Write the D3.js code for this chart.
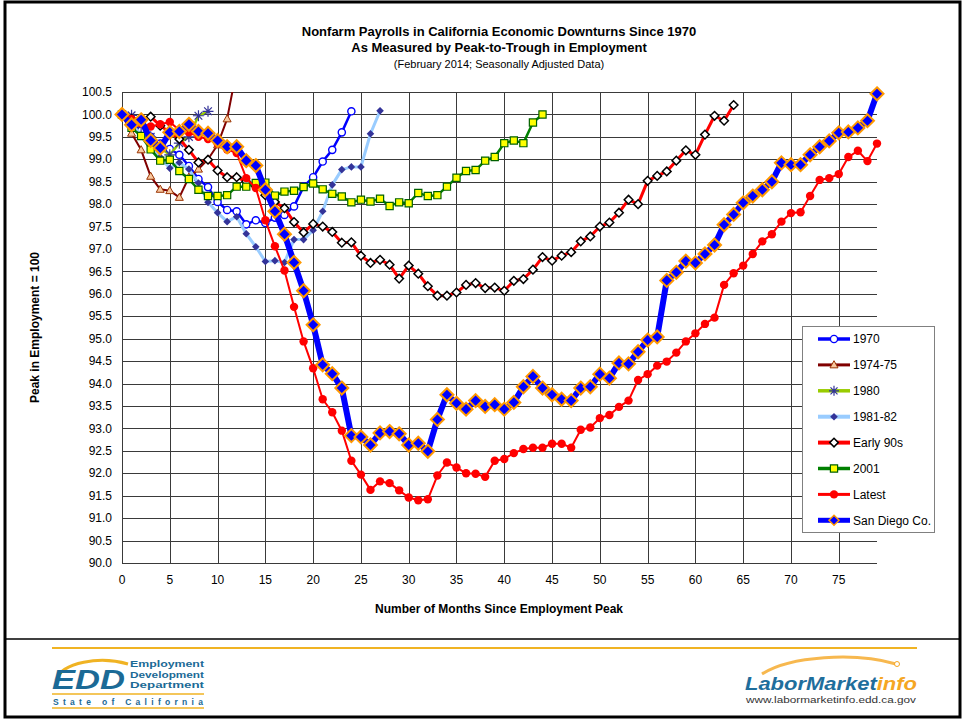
<!DOCTYPE html>
<html>
<head>
<meta charset="utf-8">
<script src="https://cdn.jsdelivr.net/npm/d3@7"></script>
<style>
  body { margin: 0; background: #fff; }
  svg { font-family: Arial, "Liberation Sans", sans-serif; }
</style>
</head>
<body>
<div id="chart"></div>
<script>
// Index of each value = months since employment peak
var s1970 = [100.0, 99.8, 99.65, 99.5, 99.35, 99.23, 99.1, 98.85, 98.56, 98.38, 98.05, 97.87, 97.84, 97.55, 97.64,
  97.58, 97.7, 97.76, 97.95, 98.39, 98.6, 98.95, 99.21, 99.6, 100.07];
var s1974 = [100.0, 99.58, 99.21, 98.62, 98.33, 98.3, 98.15, 98.6, 98.78, 99.0, 99.32, 99.9, 101.0];
var s1980 = [100.0, 99.98, 99.75, 99.5, 99.25, 99.1, 99.36, 99.5, 99.97, 100.07];
var s1981 = [100.0, 99.78, 99.55, 99.3, 99.05, 98.8, 98.93, 98.78, 98.47, 98.04, 97.81, 97.61, 97.72, 97.34, 97.05,
  96.72, 96.74, 96.7, 97.21, 97.21, 97.42, 97.84, 98.43, 98.77, 98.83, 98.83, 99.57, 100.08];
var sEarly90s = [100.0, 99.9, 99.85, 99.95, 99.75, 99.6, 99.45, 99.21, 98.93, 98.99, 98.75, 98.6, 98.6, 98.5, 98.4,
  98.2, 98.05, 97.91, 97.6, 97.37, 97.56, 97.5, 97.38, 97.14, 97.15, 96.85, 96.69, 96.76, 96.65, 96.34,
  96.63, 96.45, 96.17, 95.96, 95.96, 96.03, 96.2, 96.24, 96.13, 96.14, 96.07, 96.29, 96.33, 96.54, 96.82,
  96.74, 96.85, 96.93, 97.17, 97.28, 97.5, 97.59, 97.81, 98.1, 98.0, 98.52, 98.63, 98.73, 98.97, 99.2,
  99.1, 99.55, 99.97, 99.86, 100.21];
var s2001 = [100.0, 99.7, 99.52, 99.22, 98.97, 98.99, 98.74, 98.56, 98.32, 98.18, 98.18, 98.2, 98.39, 98.39, 98.47,
  98.48, 98.19, 98.28, 98.3, 98.38, 98.46, 98.33, 98.23, 98.17, 98.04, 98.1, 98.06, 98.12, 97.96, 98.04,
  98.02, 98.25, 98.18, 98.2, 98.39, 98.59, 98.74, 98.76, 98.97, 99.05, 99.36, 99.42, 99.36, 99.82, 100.0];
var sLatest = [100.0, 99.9, 99.8, 99.73, 99.78, 99.83, 99.65, 99.6, 99.5, 99.45, 99.35, 99.22, 99.14, 98.58, 98.36,
  97.64, 97.06, 96.52, 95.71, 94.94, 94.34, 93.65, 93.36, 92.95, 92.28, 91.97, 91.63, 91.82, 91.78, 91.62,
  91.46, 91.4, 91.42, 91.95, 92.24, 92.13, 92.0, 91.99, 91.92, 92.28, 92.32, 92.45, 92.54, 92.57, 92.57,
  92.66, 92.66, 92.57, 92.97, 93.02, 93.23, 93.3, 93.48, 93.62, 94.08, 94.21, 94.4, 94.49, 94.69, 94.94,
  95.12, 95.33, 95.47, 96.2, 96.46, 96.63, 96.89, 97.17, 97.33, 97.61, 97.8, 97.82, 98.18, 98.54, 98.58,
  98.67, 99.05, 99.19, 98.96, 99.35];
var sSanDiego = [100.0, 99.77, 99.88, 99.42, 99.25, 99.6, 99.62, 99.78, 99.62, 99.58, 99.42, 99.28, 99.28, 98.97, 98.86,
  98.32, 97.84, 97.33, 96.7, 96.07, 95.31, 94.42, 94.22, 93.9, 92.84, 92.81, 92.63, 92.9, 92.93, 92.88,
  92.63, 92.67, 92.49, 93.2, 93.75, 93.56, 93.43, 93.62, 93.49, 93.53, 93.43, 93.58, 93.93, 94.16, 93.9,
  93.75, 93.65, 93.62, 93.9, 93.93, 94.21, 94.12, 94.46, 94.44, 94.71, 94.97, 95.04, 96.3, 96.48, 96.73,
  96.69, 96.89, 97.09, 97.54, 97.77, 98.03, 98.18, 98.32, 98.5, 98.92, 98.88, 98.88, 99.1, 99.28, 99.41,
  99.59, 99.61, 99.7, 99.86, 100.46];

var seriesNames = ["1970", "1974-75", "1980", "1981-82", "Early 90s", "2001", "Latest", "San Diego Co."];
var seriesValues = [s1970, s1974, s1980, s1981, sEarly90s, s2001, sLatest, sSanDiego];

var yTicks = [90.0, 90.5, 91.0, 91.5, 92.0, 92.5, 93.0, 93.5, 94.0, 94.5, 95.0, 95.5, 96.0, 96.5, 97.0, 97.5,
  98.0, 98.5, 99.0, 99.5, 100.0, 100.5];
var xTicks = [0, 5, 10, 15, 20, 25, 30, 35, 40, 45, 50, 55, 60, 65, 70, 75];

// styles per series (same order as names)
var styles = [
  {line: "#0000ff", lw: 2.5, sym: "circle", size: 3.6, fill: "#fff", stroke: "#0000ff", sw: 1.4},
  {line: "#800000", lw: 2, sym: "triangle", size: 4.2, fill: "#f8c8a0", stroke: "#993300", sw: 1},
  {line: "#99cc00", lw: 2.5, sym: "asterisk", size: 5.5, fill: "none", stroke: "#333399", sw: 1.2},
  {line: "#99ccff", lw: 3, sym: "diamond", size: 3.8, fill: "#333399", stroke: "none", sw: 0},
  {line: "#ff0000", lw: 3, sym: "diamond", size: 4.3, fill: "#fff", stroke: "#000", sw: 1.5},
  {line: "#008000", lw: 2.5, sym: "square", size: 3.6, fill: "#ffff00", stroke: "#006000", sw: 1.2},
  {line: "#ff0000", lw: 2, sym: "circle", size: 4.2, fill: "#ff0000", stroke: "none", sw: 0},
  {line: "#0000ff", lw: 6, sym: "diamond", size: 6.5, fill: "#0000ff", stroke: "#ff9900", sw: 2}
];

var W = 965, H = 722;
var plot = {left: 122, top: 92, right: 877, bottom: 563};

var svg = d3.select("#chart").append("svg")
  .attr("width", W).attr("height", H);

svg.append("rect").attr("width", W).attr("height", H).attr("fill", "#fff");

var x = d3.scaleLinear().domain([0, 79]).range([plot.left, plot.right]);
var y = d3.scaleLinear().domain([90, 100.5]).range([plot.bottom, plot.top]);

// Marker shape paths
function markerPath(sym, s) {
  if (sym == "circle") return d3.symbol(d3.symbolCircle, Math.PI * s * s)();
  if (sym == "diamond") return "M0," + (-s) + "L" + s + ",0L0," + s + "L" + (-s) + ",0Z";
  if (sym == "square") return "M" + (-s) + "," + (-s) + "h" + (2 * s) + "v" + (2 * s) + "h" + (-2 * s) + "Z";
  if (sym == "triangle") return "M0," + (-s) + "L" + (s * 0.95) + "," + (s * 0.7) + "L" + (-s * 0.95) + "," + (s * 0.7) + "Z";
  if (sym == "asterisk") {
    var d = s * 0.7;
    return "M" + (-s) + ",0L" + s + ",0M" + (-d) + "," + (-d) + "L" + d + "," + d + "M" + (-d) + "," + d + "L" + d + "," + (-d) + "M0," + (-s) + "L0," + s;
  }
}

// Gridlines
var grid = svg.append("g").attr("shape-rendering", "crispEdges");
grid.selectAll(".hgrid").data(yTicks).enter().append("line")
  .attr("x1", plot.left).attr("x2", plot.right)
  .attr("y1", d => Math.round(y(d)) + 0.5).attr("y2", d => Math.round(y(d)) + 0.5)
  .attr("stroke", "#3a3a3a").attr("stroke-width", 1);
grid.selectAll(".vgrid").data(xTicks).enter().append("line")
  .attr("x1", d => Math.round(x(d)) + 0.5).attr("x2", d => Math.round(x(d)) + 0.5)
  .attr("y1", plot.top).attr("y2", plot.bottom)
  .attr("stroke", "#3a3a3a").attr("stroke-width", 1);

// Tick labels
svg.append("g").selectAll("text").data(yTicks).enter().append("text")
  .attr("x", 112).attr("y", d => y(d)).attr("dy", "0.35em")
  .attr("text-anchor", "end").style("font-size", "12px").attr("fill", "#000")
  .text(d => d3.format(".1f")(d));
svg.append("g").selectAll("text").data(xTicks).enter().append("text")
  .attr("x", d => x(d)).attr("y", 584)
  .attr("text-anchor", "middle").style("font-size", "12px").attr("fill", "#000")
  .text(d => d);

// Clip lines to the plot area (1974-75 runs off the top)
svg.append("clipPath").attr("id", "plotclip").append("rect")
  .attr("x", 0).attr("y", plot.top).attr("width", W).attr("height", plot.bottom - plot.top);

var line = d3.line().x((d, i) => x(i)).y(d => y(d));

seriesValues.forEach(function (vals, k) {
  var st = styles[k];
  var g = svg.append("g");
  g.append("path").datum(vals)
    .attr("d", line)
    .attr("clip-path", "url(#plotclip)")
    .attr("fill", "none").attr("stroke", st.line)
    .attr("stroke-width", st.lw).attr("stroke-linejoin", "round");
  var pts = vals.map((v, i) => ({m: i, v: v})).filter(d => d.v <= 100.5);
  g.selectAll("path.mk").data(pts).enter().append("path")
    .attr("class", "mk")
    .attr("transform", d => "translate(" + x(d.m) + "," + y(d.v) + ")")
    .attr("d", markerPath(st.sym, st.size))
    .attr("fill", st.fill).attr("stroke", st.stroke).attr("stroke-width", st.sw);
});

// Axis titles
svg.append("text")
  .attr("transform", "translate(39," + ((plot.top + plot.bottom) / 2) + ") rotate(-90)")
  .attr("text-anchor", "middle").style("font-size", "12px").style("font-weight", "bold")
  .text("Peak in Employment = 100");
svg.append("text")
  .attr("x", 499).attr("y", 613)
  .attr("text-anchor", "middle").style("font-size", "12px").style("font-weight", "bold")
  .text("Number of Months Since Employment Peak");

// Titles
var tx = 499;
svg.append("text").attr("x", tx).attr("y", 36).attr("text-anchor", "middle")
  .style("font-size", "13px").style("font-weight", "bold")
  .text("Nonfarm Payrolls in California Economic Downturns Since 1970");
svg.append("text").attr("x", tx).attr("y", 52).attr("text-anchor", "middle")
  .style("font-size", "13px").style("font-weight", "bold")
  .text("As Measured by Peak-to-Trough in Employment");
svg.append("text").attr("x", tx).attr("y", 68).attr("text-anchor", "middle")
  .style("font-size", "11px")
  .text("(February 2014; Seasonally Adjusted Data)");

// Legend
var legend = svg.append("g").attr("transform", "translate(802,326)");
legend.append("rect").attr("x", 0.5).attr("y", 0.5).attr("width", 132).attr("height", 206)
  .attr("fill", "#fff").attr("stroke", "#808080");
var li = legend.selectAll(".li").data(seriesNames).enter().append("g")
  .attr("transform", (d, i) => "translate(0," + (13 + i * 25.9) + ")");
li.append("line").attr("x1", 16).attr("x2", 48).attr("y1", 0).attr("y2", 0)
  .attr("stroke", (d, i) => styles[i].line)
  .attr("stroke-width", (d, i) => Math.min(styles[i].lw + 1, 5));
li.append("path")
  .attr("transform", "translate(32,0)")
  .attr("d", (d, i) => markerPath(styles[i].sym, Math.min(styles[i].size, 5)))
  .attr("fill", (d, i) => styles[i].fill)
  .attr("stroke", (d, i) => styles[i].stroke)
  .attr("stroke-width", (d, i) => Math.min(styles[i].sw, 1.5));
li.append("text").attr("x", 51).attr("dy", "0.35em")
  .style("font-size", "12px").text(d => d);

// Frame and footer
svg.append("rect").attr("x", 5).attr("y", 2).attr("width", 955).attr("height", 715)
  .attr("fill", "none").attr("stroke", "#000").attr("stroke-width", 3);
svg.append("line").attr("x1", 5).attr("x2", 960).attr("y1", 639).attr("y2", 639)
  .attr("stroke", "#000").attr("stroke-width", 1.5);
svg.append("line").attr("x1", 52).attr("x2", 917).attr("y1", 648).attr("y2", 648)
  .attr("stroke", "#f0b323").attr("stroke-width", 2);

// EDD logo
var edd = svg.append("g");
edd.append("path")
  .attr("d", "M56,680 C62,662 100,656 128,664")
  .attr("fill", "none").attr("stroke", "#f0b323").attr("stroke-width", 3);
edd.append("text").attr("x", 52).attr("y", 689)
  .style("font-size", "28px").style("font-weight", "bold").style("font-style", "italic")
  .attr("fill", "#1b6a96").attr("textLength", 73).attr("lengthAdjust", "spacingAndGlyphs")
  .text("EDD");
var eddWords = ["Employment", "Development", "Department"];
edd.selectAll(".ew").data(eddWords).enter().append("text")
  .attr("x", 130).attr("y", (d, i) => 667 + i * 10.5)
  .style("font-size", "9px").style("font-weight", "bold")
  .attr("fill", "#1b6a96").attr("textLength", 74).attr("lengthAdjust", "spacingAndGlyphs")
  .text(d => d);
edd.append("line").attr("x1", 52).attr("x2", 204).attr("y1", 694).attr("y2", 694)
  .attr("stroke", "#f0b323").attr("stroke-width", 1.5);
edd.append("text").attr("x", 53).attr("y", 705)
  .style("font-size", "8.5px").style("font-weight", "bold")
  .attr("fill", "#1b6a96").attr("textLength", 150).attr("lengthAdjust", "spacing")
  .text("State of California");
edd.append("line").attr("x1", 52).attr("x2", 204).attr("y1", 708).attr("y2", 708)
  .attr("stroke", "#f0b323").attr("stroke-width", 1.5);

// LaborMarketInfo logo
var lmi = svg.append("g");
lmi.append("path")
  .attr("d", "M762,674 C790,656 855,652 896,664")
  .attr("fill", "none").attr("stroke", "#f5a623").attr("stroke-width", 3).attr("opacity", 0.8);
lmi.append("circle").attr("cx", 897).attr("cy", 664).attr("r", 2.5)
  .attr("fill", "#fff").attr("stroke", "#f5a623").attr("stroke-width", 1);
var lt = lmi.append("text").attr("x", 745).attr("y", 690)
  .style("font-size", "19px").style("font-weight", "bold").style("font-style", "italic")
  .attr("textLength", 172).attr("lengthAdjust", "spacingAndGlyphs");
lt.append("tspan").attr("fill", "#1f6e9c").text("LaborMarket");
lt.append("tspan").attr("fill", "#f5a623").text("info");
lmi.append("text").attr("x", 746).attr("y", 703)
  .style("font-size", "9px").attr("fill", "#333")
  .attr("textLength", 170).attr("lengthAdjust", "spacingAndGlyphs")
  .text("www.labormarketinfo.edd.ca.gov");
</script>
</body>
</html>
